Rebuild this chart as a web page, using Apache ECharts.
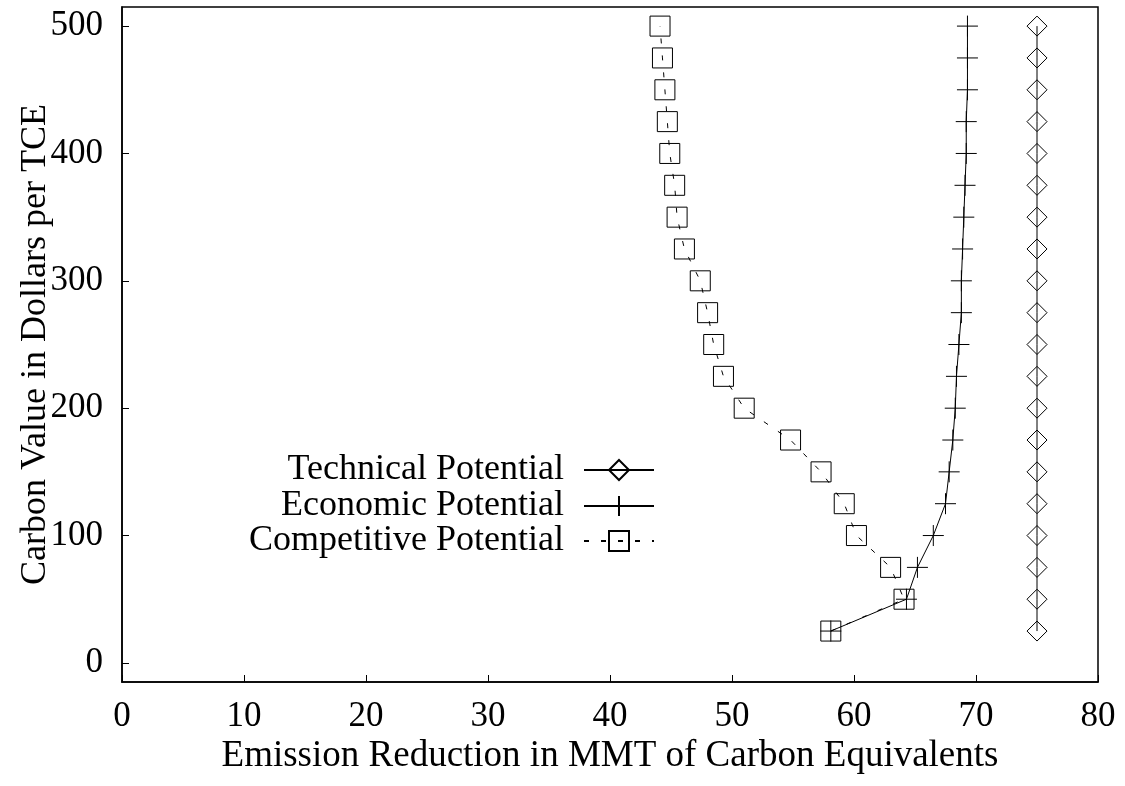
<!DOCTYPE html>
<html>
<head>
<meta charset="utf-8">
<script src="https://cdn.jsdelivr.net/npm/echarts@6/dist/echarts.min.js"></script>
<style>
    html, body { margin: 0; padding: 0; background: #fff; }
    #chart { width: 1125px; height: 786px; }
</style>
</head>
<body>
<div id="chart"></div>
<script>
// Carbon value (y) vs emission reduction (x), three potential curves
const carbonValues = [25, 50, 75, 100, 125, 150, 175, 200, 225, 250,
    275, 300, 325, 350, 375, 400, 425, 450, 475, 500];
const technicalPotential = [75, 75, 75, 75, 75, 75, 75, 75, 75, 75,
    75, 75, 75, 75, 75, 75, 75, 75, 75, 75];
const economicPotential = [58.1, 64.3, 65.2, 66.5, 67.5, 67.8, 68.1, 68.3, 68.4, 68.6,
    68.8, 68.8, 68.9, 69.0, 69.1, 69.2, 69.2, 69.3, 69.3, 69.3];
const competitivePotential = [58.1, 64.1, 63.0, 60.2, 59.2, 57.3, 54.8, 51.0, 49.3, 48.5,
    48.0, 47.4, 46.1, 45.5, 45.3, 44.9, 44.7, 44.5, 44.3, 44.1];
const yTickValues = [0, 100, 200, 300, 400, 500];

const FONT = "'Liberation Serif', 'Times New Roman', serif";
const PLUS = "path://M0,10L20,10M10,0L10,20";

function pairs(xs) {
    return xs.map((x, i) => [x, carbonValues[i]]);
}

function lineSeries(name, xs, symbol, size, dashed) {
    return {
        name,
        type: "line",
        data: pairs(xs),
        symbol,
        symbolSize: size,
        showAllSymbol: true,
        animation: false,
        itemStyle: { color: "rgba(0,0,0,0)", borderColor: "#000", borderWidth: 1 },
        lineStyle: { color: "#000", width: 1, type: dashed ? [5, 12] : "solid" },
        emphasis: { disabled: true },
    };
}

function legendRow(name, top) {
    return {
        data: [name],
        orient: "horizontal",
        align: "right",
        right: 465,
        top,
        itemWidth: 70,
        itemHeight: 25,
        selectedMode: false,
        textStyle: { fontFamily: FONT, fontSize: 36, color: "#000", padding: [0, 15, 0, 0] },
    };
}

const chart = echarts.init(document.getElementById("chart"), null, { renderer: "canvas" });

chart.setOption({
    backgroundColor: "#fff",
    animation: false,
    grid: {
        left: 122, right: 27, top: 7, bottom: 104,
        outerBoundsMode: "none",
        containLabel: false,
        show: true, borderColor: "#000", borderWidth: 1.5,
    },
    legend: [
        legendRow("Technical Potential", 447),
        legendRow("Economic Potential", 483),
        legendRow("Competitive Potential", 518),
    ],
    xAxis: {
        type: "value",
        min: 0, max: 80, interval: 10,
        name: "Emission Reduction in MMT of Carbon Equivalents",
        nameLocation: "middle",
        nameGap: 56,
        nameMoveOverlap: false,
        nameTextStyle: { fontFamily: FONT, fontSize: 37, color: "#000" },
        axisLine: { onZero: false, lineStyle: { color: "#000", width: 1.5 } },
        axisTick: { inside: true, length: 7, lineStyle: { color: "#000" } },
        axisLabel: { fontFamily: FONT, fontSize: 35, color: "#000", margin: 17 },
        splitLine: { show: false },
    },
    yAxis: {
        type: "value",
        min: -15, max: 515,
        name: "Carbon Value in Dollars per TCE",
        nameLocation: "middle",
        nameGap: 68,
        nameMoveOverlap: false,
        nameTextStyle: { fontFamily: FONT, fontSize: 36, color: "#000" },
        axisLine: { onZero: false, lineStyle: { color: "#000", width: 1.5 } },
        axisTick: { inside: true, length: 7, lineStyle: { color: "#000" }, customValues: yTickValues },
        axisLabel: { fontFamily: FONT, fontSize: 35, color: "#000", margin: 19, customValues: yTickValues },
        splitLine: { show: false },
    },
    series: [
        lineSeries("Technical Potential", technicalPotential, "diamond", [20, 20], false),
        lineSeries("Economic Potential", economicPotential, PLUS, [21, 21], false),
        lineSeries("Competitive Potential", competitivePotential, "rect", [20, 20], true),
    ],
});
</script>
</body>
</html>
